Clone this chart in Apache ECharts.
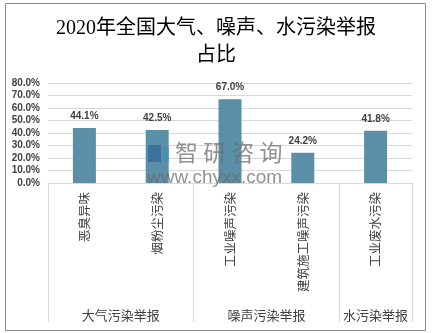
<!DOCTYPE html>
<html><head><meta charset="utf-8">
<script src="https://cdn.jsdelivr.net/npm/echarts@6/dist/echarts.min.js"></script>
<style>html,body{margin:0;padding:0;background:#fff}#c{width:432px;height:333px}</style>
</head><body><div id="c"></div>
<script>
const titleText = '2020年全国大气、噪声、水污染举报\n占比';
const categories = ['恶臭异味', '烟粉尘污染', '工业噪声污染', '建筑施工噪声污染', '工业废水污染'];
const values = [44.1, 42.5, 67.0, 24.2, 41.8];
const groupSlots = ['', '', '大气污染举报', '', '', '', '噪声污染举报', '', '', '水污染举报', ''];
const groupBoundaries = [0, 4, 8, 10];

const chart = echarts.init(document.getElementById('c'), null, {renderer: 'canvas'});
chart.setOption({
  animation: false,
  backgroundColor: '#fff',
  title: {
    text: titleText, left: 'center', top: 10,
    textStyle: {fontFamily: '"Liberation Serif", "Noto Sans CJK SC"', fontSize: 20, fontWeight: 'normal', color: '#000', lineHeight: 27}
  },
  grid: {left: 48, right: 20, top: 83, bottom: 150, containLabel: false},
  xAxis: [{
    type: 'category', data: categories, position: 'bottom',
    axisLine: {show: true, lineStyle: {color: '#d9d9d9'}},
    axisTick: {show: false},
    axisLabel: {interval: 0, rotate: 90, margin: 9, fontSize: 12.5, color: '#404040', fontFamily: '"Noto Sans CJK SC"'}
  }, {
    type: 'category', data: groupSlots, position: 'bottom', boundaryGap: false,
    axisLine: {show: false},
    axisTick: {show: true, length: 139, lineStyle: {color: '#d9d9d9'},
      interval: function (i) { return groupBoundaries.indexOf(i) >= 0; }},
    axisLabel: {interval: 0, margin: 126, fontSize: 13, color: '#404040', fontFamily: '"Noto Sans CJK SC"'}
  }],
  yAxis: {
    type: 'value', min: 0, max: 80, interval: 10,
    axisLine: {show: false}, axisTick: {show: false},
    splitLine: {lineStyle: {color: '#d9d9d9'}},
    axisLabel: {margin: 8, fontSize: 10, color: '#404040', fontFamily: '"Liberation Sans"', fontWeight: 'bold',
      formatter: function (v) { return v.toFixed(1) + '%'; }}
  },
  series: [{
    type: 'bar', data: values, xAxisIndex: 0, barWidth: 23,
    itemStyle: {color: '#5B8FA7'},
    label: {show: true, position: 'top', distance: 7, fontSize: 10, color: '#404040', fontWeight: 'bold',
      fontFamily: '"Liberation Sans"', formatter: function (p) { return p.value.toFixed(1) + '%'; }}
  }],
  graphic: [
    {type: 'rect', shape: {x: 5.5, y: 3.5, width: 420, height: 327}, style: {fill: 'none', stroke: '#8c8c8c', lineWidth: 1}, z: 100},
    {type: 'rect', shape: {x: 148, y: 145, width: 13, height: 17}, style: {fill: 'rgba(40,90,150,0.55)'}, z: 100},
    {type: 'rect', shape: {x: 163, y: 147, width: 6, height: 15}, style: {fill: 'rgba(60,140,200,0.55)'}, z: 100},
    {type: 'text', left: 175, top: 141, style: {text: '智 研 咨 询', fontSize: 23, fill: 'rgba(110,110,110,0.75)', fontFamily: '"Noto Sans CJK SC"'}, z: 100},
    {type: 'text', left: 147, top: 168, style: {text: 'www.chyxx.com', fontSize: 19, fill: 'rgba(110,110,110,0.75)', fontFamily: '"Liberation Sans"'}, z: 100}
  ]
});
</script>
</body></html>
